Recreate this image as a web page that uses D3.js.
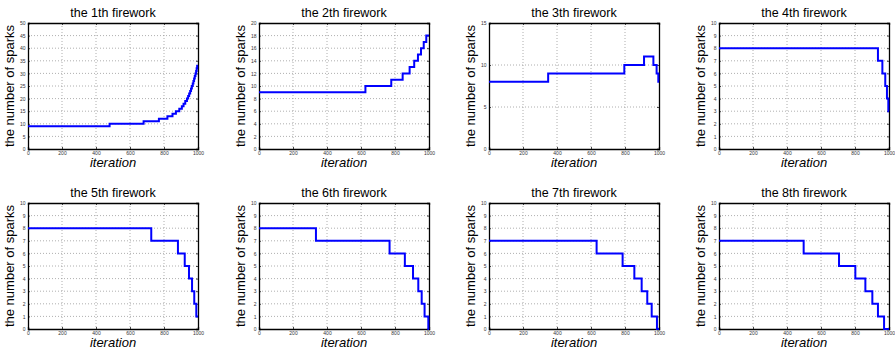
<!DOCTYPE html>
<html>
<head>
<meta charset="utf-8">
<script src="https://cdn.jsdelivr.net/npm/d3@7"></script>
<style>
  body { margin: 0; background: #fff; }
  svg { display: block; font-family: "Liberation Sans", Arial, sans-serif; }
</style>
</head>
<body>
<svg id="chart" width="895" height="353"></svg>
<script>
// Spark counts per firework over the iterations: each series is a step
// function given by the iteration where a level starts and the level itself.
const titles = ["the 1th firework", "the 2th firework", "the 3th firework", "the 4th firework",
                "the 5th firework", "the 6th firework", "the 7th firework", "the 8th firework"];

const iter1   = [0, 480, 680, 770, 820, 850, 870, 890, 905, 915, 925, 935, 942, 948, 954, 959, 964, 969, 973, 977, 981, 985, 989, 992, 995, 998, 1000];
const sparks1 = [9, 10, 11, 12, 13, 14, 15, 16, 17, 18, 19, 20, 21, 22, 23, 24, 25, 26, 27, 28, 29, 30, 31, 32, 33, 33, 33];

const iter2   = [0, 626, 778, 845, 886, 913, 935, 953, 969, 984, 1000];
const sparks2 = [9, 10, 11, 12, 13, 14, 15, 16, 17, 18, 18];

const iter3   = [0, 348, 796, 912, 967, 986, 996, 1000];
const sparks3 = [8, 9, 10, 11, 10, 9, 8, 8];

const iter4   = [0, 935, 961, 978, 988, 996, 1000];
const sparks4 = [8, 7, 6, 5, 4, 3, 3];

const iter5   = [0, 725, 882, 922, 947, 965, 978, 990, 1000];
const sparks5 = [8, 7, 6, 5, 4, 3, 2, 1, 1];

const iter6   = [0, 335, 768, 858, 906, 937, 957, 974, 996, 1000];
const sparks6 = [8, 7, 6, 5, 4, 3, 2, 1, 0, 0];

const iter7   = [0, 633, 786, 855, 898, 931, 957, 988, 1000];
const sparks7 = [7, 6, 5, 4, 3, 2, 1, 0, 0];

const iter8   = [0, 498, 706, 802, 861, 902, 935, 971, 1000];
const sparks8 = [7, 6, 5, 4, 3, 2, 1, 0, 0];

// y-axis ranges and tick spacing of each panel
const yMax  = [50, 20, 15, 10, 10, 10, 10, 10];
const yStep = [5, 2, 5, 1, 1, 1, 1, 1];
const xTicks = [0, 200, 400, 600, 800, 1000];

const iters  = [iter1, iter2, iter3, iter4, iter5, iter6, iter7, iter8];
const sparks = [sparks1, sparks2, sparks3, sparks4, sparks5, sparks6, sparks7, sparks8];

const svg = d3.select("#chart");

const colLeft = [28, 259, 489, 719];
const rowTop  = [23, 203];
const pw = 170, ph = 126;

titles.forEach((title, i) => {
  const left = colLeft[i % 4], top = rowTop[Math.floor(i / 4)];
  const g = svg.append("g").attr("transform", `translate(${left},${top})`);

  const x = d3.scaleLinear().domain([0, 1000]).range([0, pw]);
  const y = d3.scaleLinear().domain([0, yMax[i]]).range([ph, 0]);
  const yTicks = d3.range(0, yMax[i] + yStep[i] / 2, yStep[i]);

  // dotted grid
  g.append("g").selectAll("line").data(xTicks.slice(1, -1)).join("line")
    .attr("x1", d => x(d)).attr("x2", d => x(d)).attr("y1", 0).attr("y2", ph)
    .attr("stroke", "#9a9a9a").attr("stroke-width", 0.8).attr("stroke-dasharray", "1,2");
  g.append("g").selectAll("line").data(yTicks.slice(1, -1)).join("line")
    .attr("y1", d => y(d)).attr("y2", d => y(d)).attr("x1", 0).attr("x2", pw)
    .attr("stroke", "#9a9a9a").attr("stroke-width", 0.8).attr("stroke-dasharray", "1,2");

  // axes with inward ticks
  g.append("g").attr("transform", `translate(0,${ph})`)
    .call(d3.axisBottom(x).tickValues(xTicks).tickFormat(d3.format("d")).tickSize(-2).tickPadding(2.5));
  g.append("g")
    .call(d3.axisLeft(y).tickValues(yTicks).tickFormat(d3.format("d")).tickSize(-2).tickPadding(2.5));
  g.append("g").call(d3.axisTop(x).tickValues(xTicks).tickSize(-2).tickFormat(""));
  g.append("g").attr("transform", `translate(${pw},0)`)
    .call(d3.axisRight(y).tickValues(yTicks).tickSize(-2).tickFormat(""));
  g.selectAll(".domain").attr("stroke", "#000").attr("stroke-width", 1.3);
  g.selectAll(".tick line").attr("stroke", "#000").attr("stroke-width", 0.7);
  g.selectAll(".tick text").attr("font-size", 5).attr("fill", "#333")
    .attr("font-family", "'Liberation Sans', Arial, sans-serif");

  // spark count line
  const pts = iters[i].map((t, k) => [t, sparks[i][k]]);
  g.append("path").datum(pts)
    .attr("fill", "none").attr("stroke", "#0000ff").attr("stroke-width", 2)
    .attr("d", d3.line().x(d => x(d[0])).y(d => y(d[1])).curve(d3.curveStepAfter));

  // labels
  g.append("text").attr("x", pw / 2).attr("y", -6).attr("text-anchor", "middle")
    .attr("font-size", 12.5).attr("fill", "#000").text(title);
  g.append("text").attr("transform", `translate(-14,${ph / 2}) rotate(-90)`)
    .attr("text-anchor", "middle").attr("font-size", 13).attr("fill", "#000")
    .text("the number of sparks");
  g.append("text").attr("x", pw / 2).attr("y", ph + 18).attr("text-anchor", "middle")
    .attr("font-size", 13).attr("font-style", "italic").attr("fill", "#000")
    .text("iteration");
});
</script>
</body>
</html>
